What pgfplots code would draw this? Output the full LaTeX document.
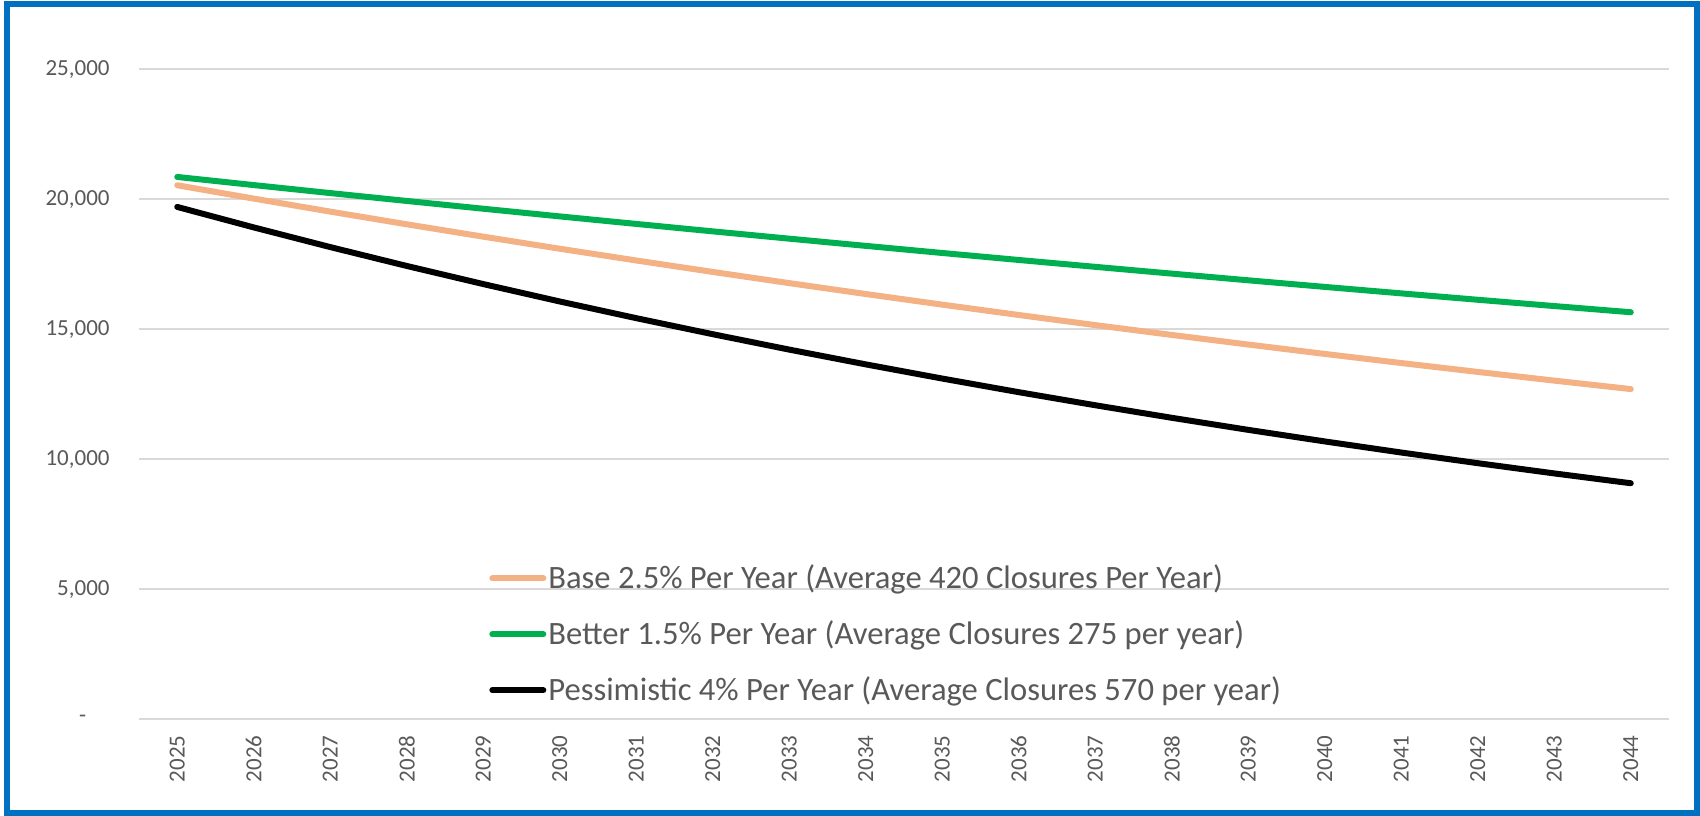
\documentclass[border=0pt]{standalone}
\usepackage{pgfplots}
\pgfplotsset{compat=1.18}
\usepackage{fontspec}
\setmainfont{Carlito}
\definecolor{borderblue}{HTML}{0070C0}
\definecolor{baseorange}{HTML}{F4B183}
\definecolor{bettergreen}{HTML}{00B050}
\definecolor{tickgray}{HTML}{595959}
\definecolor{gridgray}{HTML}{D9D9D9}
\begin{document}
\begin{tikzpicture}
\useasboundingbox (0,0) rectangle (850pt,407.5pt);
\fill[white] (0,0) rectangle (850pt,407.5pt);
\begin{axis}[
  at={(69.5pt,48pt)}, anchor=south west,
  scale only axis,
  width=765pt, height=324.85pt,
  xmin=-0.5, xmax=19.5,
  ymin=0, ymax=25000,
  scaled y ticks=false,
  xtick={0,...,19},
  xticklabels={2025,2026,2027,2028,2029,2030,2031,2032,2033,2034,2035,2036,2037,2038,2039,2040,2041,2042,2043,2044},
  ytick={0,5000,10000,15000,20000,25000},
  yticklabels={{-\hphantom{00}},{5,000},{10,000},{15,000},{20,000},{25,000}},
  axis line style={draw=none},
  major tick length=0pt,
  ymajorgrids,
  major grid style={color=gridgray, line width=1pt},
  tick label style={font=\fontsize{11.5pt}{13pt}\selectfont, text=tickgray},
  xticklabel style={rotate=90, anchor=east, inner sep=0pt},
  yticklabel style={anchor=east, inner sep=0pt},
  xticklabel shift=8pt,
  yticklabel shift=14.5pt,
  legend cell align=left,
  legend style={
    at={(0.2248,0.247)}, anchor=north west,
    draw=none, fill=none,
    font=\fontsize{16.3pt}{18pt}\selectfont, text=tickgray,
    row sep=12.55pt,
    nodes={inner sep=1pt},
  },
  legend image code/.code={\draw[#1, line cap=round] (1.5pt,0pt) -- (27pt,0pt);},
  every axis plot/.append style={line width=3pt, line cap=round, line join=round, mark=none},
]
\addplot[color=baseorange] coordinates {
(0,20538) (1,20025) (2,19524) (3,19036) (4,18560) (5,18096) (6,17644) (7,17203) (8,16772) (9,16353)
(10,15944) (11,15546) (12,15157) (13,14778) (14,14409) (15,14048) (16,13697) (17,13355) (18,13021) (19,12695)};
\addlegendentry{Base 2.5\% Per Year (Average 420 Closures Per Year)}
\addplot[color=bettergreen] coordinates {
(0,20858) (1,20545) (2,20237) (3,19934) (4,19635) (5,19340) (6,19050) (7,18764) (8,18483) (9,18206)
(10,17932) (11,17663) (12,17399) (13,17138) (14,16881) (15,16627) (16,16378) (17,16132) (18,15890) (19,15652)};
\addlegendentry{Better 1.5\% Per Year (Average Closures 275 per year)}
\addplot[color=black] coordinates {
(0,19704) (1,18916) (2,18159) (3,17433) (4,16736) (5,16066) (6,15424) (7,14807) (8,14214) (9,13646)
(10,13100) (11,12576) (12,12073) (13,11590) (14,11126) (15,10681) (16,10254) (17,9844) (18,9450) (19,9072)};
\addlegendentry{Pessimistic 4\% Per Year (Average Closures 570 per year)}
\end{axis}
\draw[borderblue, line width=3pt] (3.5pt,1pt) rectangle (848.5pt,405.5pt);
\end{tikzpicture}
\end{document}
